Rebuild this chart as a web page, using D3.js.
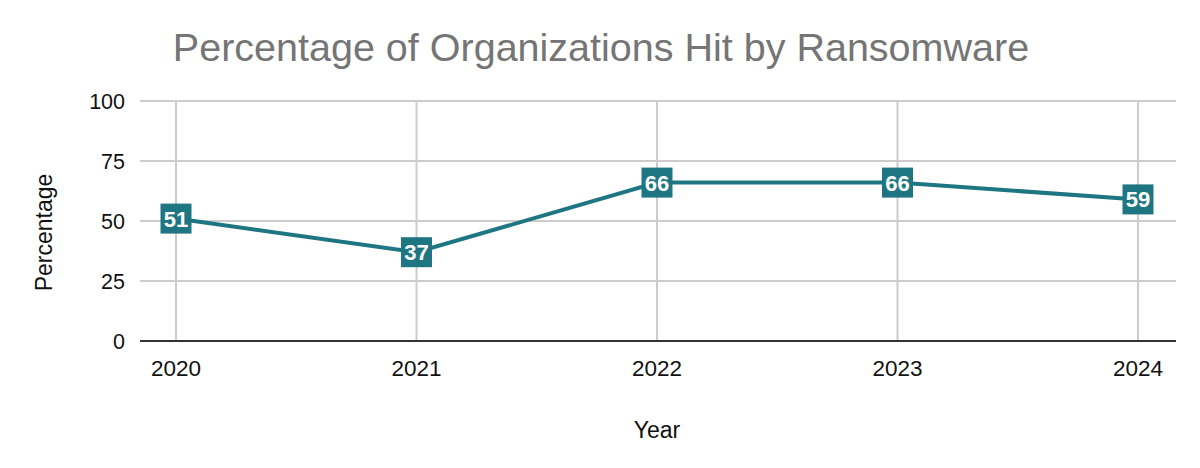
<!DOCTYPE html>
<html><head><meta charset="utf-8">
<script src="https://cdn.jsdelivr.net/npm/d3@7"></script>
<style>body{margin:0;background:#fff}svg{display:block}</style>
</head><body>
<svg id="c" width="1200" height="468"></svg>
<script>
const years = ["2020","2021","2022","2023","2024"];
const values = [51,37,66,66,59];
const yTicks = [0,25,50,75,100];
const title = "Percentage of Organizations Hit by Ransomware";
const xTitle = "Year";
const yTitle = "Percentage";

(function(){
const svg = d3.select("#c");
const font = "'Liberation Sans', Arial, sans-serif";
const pL = 140, pR = 1176, pT = 101, pB = 341;
const x = d3.scalePoint().domain(years).range([176, 1138]);
const y = d3.scaleLinear().domain([0,100]).range([pB, pT]);
const color = "#1f7683";

svg.append("rect").attr("width",1200).attr("height",468).attr("fill","#fff");

svg.append("g").selectAll("line").data(yTicks.filter(d=>d>0)).join("line")
  .attr("x1",pL).attr("x2",pR).attr("y1",d=>y(d)).attr("y2",d=>y(d))
  .attr("stroke","#cccccc").attr("stroke-width",2);
svg.append("g").selectAll("line").data(years).join("line")
  .attr("x1",d=>x(d)).attr("x2",d=>x(d)).attr("y1",pT).attr("y2",pB)
  .attr("stroke","#cccccc").attr("stroke-width",2);
svg.append("line").attr("x1",pL).attr("x2",pR).attr("y1",pB).attr("y2",pB)
  .attr("stroke","#333333").attr("stroke-width",2);

svg.append("g").selectAll("text").data(yTicks).join("text")
  .attr("x",125).attr("y",d=>y(d)).attr("dy","0.35em").attr("text-anchor","end")
  .attr("font-family",font).attr("font-size",21.5).attr("fill","#111")
  .text(d=>d);
svg.append("g").selectAll("text").data(years).join("text")
  .attr("x",d=>x(d)).attr("y",376).attr("text-anchor","middle")
  .attr("font-family",font).attr("font-size",22.5).attr("fill","#111")
  .text(d=>d);

const data = years.map((yr,i)=>({yr, v: values[i]}));
svg.append("path").datum(data)
  .attr("d", d3.line().x(d=>x(d.yr)).y(d=>y(d.v)))
  .attr("fill","none").attr("stroke",color).attr("stroke-width",4);

const lg = svg.append("g").selectAll("g").data(data).join("g")
  .attr("transform",d=>`translate(${x(d.yr)},${y(d.v)})`);
lg.append("rect").attr("x",-15.5).attr("y",-15).attr("width",31).attr("height",30).attr("fill",color);
lg.append("text").attr("text-anchor","middle").attr("dy","0.36em")
  .attr("font-family",font).attr("font-weight","bold").attr("font-size",22)
  .attr("fill","#fff").text(d=>d.v);

svg.append("text").attr("x",601).attr("y",61).attr("text-anchor","middle")
  .attr("font-family",font).attr("font-size",39.5).attr("fill","#757575").text(title);
svg.append("text").attr("x",657).attr("y",438).attr("text-anchor","middle")
  .attr("font-family",font).attr("font-size",23).attr("fill","#111").text(xTitle);
svg.append("text").attr("transform","translate(52,232.5) rotate(-90)").attr("text-anchor","middle")
  .attr("font-family",font).attr("font-size",23).attr("fill","#111").text(yTitle);
})();
</script>
</body></html>
